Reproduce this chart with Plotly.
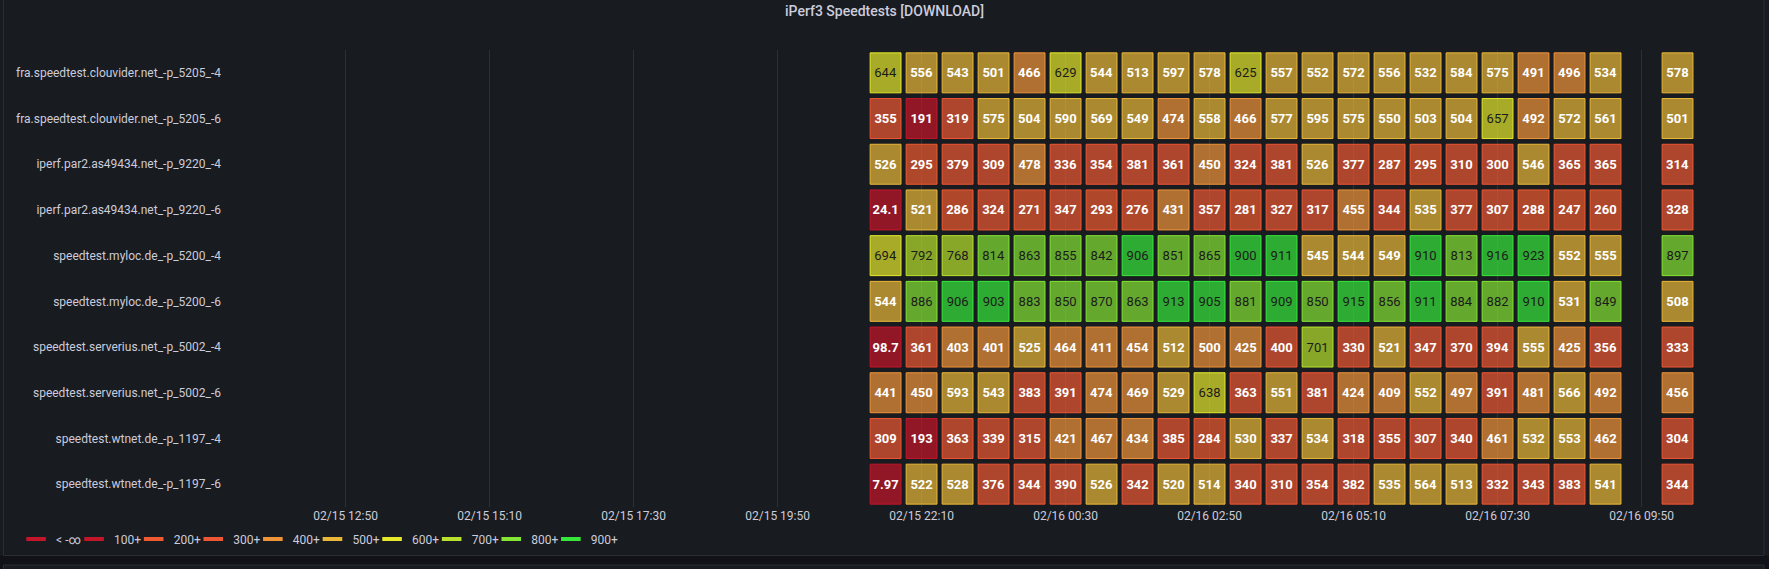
"""
iPerf3 download speedtests rendered as a Grafana-like status history grid
"""

import numpy as np
import pandas as pd
import plotly.graph_objects as go

# Rows (top to bottom)
hosts = [
    "fra.speedtest.clouvider.net_-p_5205_-4",
    "fra.speedtest.clouvider.net_-p_5205_-6",
    "iperf.par2.as49434.net_-p_9220_-4",
    "iperf.par2.as49434.net_-p_9220_-6",
    "speedtest.myloc.de_-p_5200_-4",
    "speedtest.myloc.de_-p_5200_-6",
    "speedtest.serverius.net_-p_5002_-4",
    "speedtest.serverius.net_-p_5002_-6",
    "speedtest.wtnet.de_-p_1197_-4",
    "speedtest.wtnet.de_-p_1197_-6",
]

# one sample every 35 minutes, one run missing before the last one
times = pd.date_range("2024-02-15 21:35", periods=23, freq="35min")

fra_4 = [644, 556, 543, 501, 466, 629, 544, 513, 597, 578, 625, 557, 552, 572, 556, 532, 584, 575, 491, 496, 534, None, 578]
fra_6 = [355, 191, 319, 575, 504, 590, 569, 549, 474, 558, 466, 577, 595, 575, 550, 503, 504, 657, 492, 572, 561, None, 501]
par2_4 = [526, 295, 379, 309, 478, 336, 354, 381, 361, 450, 324, 381, 526, 377, 287, 295, 310, 300, 546, 365, 365, None, 314]
par2_6 = [24.1, 521, 286, 324, 271, 347, 293, 276, 431, 357, 281, 327, 317, 455, 344, 535, 377, 307, 288, 247, 260, None, 328]
myloc_4 = [694, 792, 768, 814, 863, 855, 842, 906, 851, 865, 900, 911, 545, 544, 549, 910, 813, 916, 923, 552, 555, None, 897]
myloc_6 = [544, 886, 906, 903, 883, 850, 870, 863, 913, 905, 881, 909, 850, 915, 856, 911, 884, 882, 910, 531, 849, None, 508]
serverius_4 = [98.7, 361, 403, 401, 525, 464, 411, 454, 512, 499.6, 425, 399.6, 701, 330, 521, 347, 370, 394, 555, 425, 356, None, 333]
serverius_6 = [441, 450, 593, 543, 383, 391, 474, 469, 529, 638, 363, 551, 381, 424, 409, 552, 497, 391, 481, 566, 492, None, 456]
wtnet_4 = [309, 193, 363, 339, 315, 421, 467, 434, 385, 284, 530, 337, 534, 318, 355, 307, 340, 461, 532, 553, 462, None, 304]
wtnet_6 = [7.97, 522, 528, 376, 344, 390, 526, 342, 520, 514, 340, 310, 354, 382, 535, 564, 513, 332, 343, 383, 541, None, 344]

rows = [fra_4, fra_6, par2_4, par2_6, myloc_4, myloc_6,
        serverius_4, serverius_6, wtnet_4, wtnet_6]

# Threshold steps
threshold_steps = [-np.inf, 100, 200, 300, 400, 500, 600, 700, 800, 900]
threshold_names = ["< -∞", "100+", "200+", "300+", "400+", "500+", "600+", "700+", "800+", "900+"]
threshold_colors = ["#C4162A", "#C4162A", "#F05A30", "#EE5733", "#F0943A",
                    "#EAB839", "#E6E82C", "#B8E22E", "#85E534", "#37E83A"]

BG = "#181b1f"
TEXT = "#ccccdc"
FONT = "Roboto"


def step_color(v):
    idx = 0
    for i, s in enumerate(threshold_steps):
        if v >= s:
            idx = i
    return threshold_colors[idx]


def with_alpha(hex_color, alpha):
    h = hex_color.lstrip('#')
    r, g, b = int(h[0:2], 16), int(h[2:4], 16), int(h[4:6], 16)
    return f"rgba({r},{g},{b},{alpha})"


fig = go.Figure()

cell_width_ms = 30 * 60 * 1000
cell_height = 0.875

for r, row in enumerate(rows):
    xs = [t for t, v in zip(times, row) if v is not None]
    vals = [v for v in row if v is not None]
    borders = [step_color(v) for v in vals]
    fills = [with_alpha(c, 0.7) for c in borders]
    labels = [f"{v:.3g}" if v >= 600 else f"<b>{v:.3g}</b>" for v in vals]
    text_colors = ["#1b1b1b" if v >= 600 else "#ffffff" for v in vals]
    fig.add_trace(go.Bar(
        x=xs,
        y=[cell_height] * len(vals),
        base=[r - cell_height / 2] * len(vals),
        width=cell_width_ms,
        marker=dict(color=fills, line=dict(color=borders, width=1)),
        text=labels,
        textposition='inside',
        insidetextanchor='middle',
        textangle=0,
        constraintext='none',
        textfont=dict(family=FONT, size=13, color=text_colors),
        hoverinfo='skip',
        showlegend=False,
    ))

# Legend entries for the thresholds
for i, (name, color) in enumerate(zip(threshold_names, threshold_colors)):
    if i == 0:
        lw = 13
    elif i == len(threshold_names) - 1:
        lw = 40
    else:
        lw = None
    fig.add_trace(go.Scatter(
        x=[None], y=[None],
        mode='markers',
        name=name,
        legendwidth=lw,
        marker=dict(symbol='line-ew', size=14, line=dict(width=4, color=color)),
    ))

# page strip below the panel and panel borders
fig.add_shape(type='rect', xref='paper', yref='paper',
              x0=-0.2, x1=1.2, y0=-0.2, y1=-0.1061,
              fillcolor="#111217", line=dict(width=0), layer='below')
fig.add_shape(type='rect', xref='paper', yref='paper',
              x0=-0.1455, x1=1.0059, y0=-0.1061, y1=1.2,
              fillcolor='rgba(0,0,0,0)', line=dict(color="#2b2e33", width=1))
fig.add_shape(type='rect', xref='paper', yref='paper',
              x0=-0.1455, x1=1.0059, y0=-0.3, y1=-0.1269,
              fillcolor=BG, line=dict(color="#2b2e33", width=1))

fig.update_layout(
    width=1769,
    height=569,
    margin=dict(l=226, r=14, t=50, b=62),
    paper_bgcolor=BG,
    plot_bgcolor=BG,
    barmode='overlay',
    font=dict(family=FONT, size=12, color=TEXT),
    title=dict(
        text="iPerf3 Speedtests [DOWNLOAD]",
        x=0.5, xanchor='center',
        y=1 - 11 / 569, yanchor='middle',
        font=dict(family=FONT, size=14, color=TEXT, weight=500),
    ),
    xaxis=dict(
        type='date',
        range=["2024-02-15 10:53:43", "2024-02-16 11:40:18"],
        tick0="2024-02-15 12:50",
        dtick=140 * 60 * 1000,
        tickformat="%m/%d %H:%M",
        showgrid=True,
        gridcolor="#2c2f34",
        gridwidth=1,
        zeroline=False,
        showline=False,
        ticks='',
        tickfont=dict(family=FONT, size=12, color=TEXT),
    ),
    yaxis=dict(
        range=[9.5, -0.5],
        tickmode='array',
        tickvals=list(range(len(hosts))),
        ticktext=hosts,
        showgrid=False,
        zeroline=False,
        showline=False,
        ticks='',
        automargin=False,
        ticklabelstandoff=4,
        tickfont=dict(family=FONT, size=12, color=TEXT),
    ),
    legend=dict(
        orientation='h',
        x=-0.1373, xanchor='left',
        y=-0.070, yanchor='middle',
        entrywidth=14.6,
        itemwidth=30,
        font=dict(family=FONT, size=12, color=TEXT),
        bgcolor='rgba(0,0,0,0)',
        itemclick=False,
    ),
)

# drop the default page margin so the figure fills the window
fig.write_html(
    "out.html",
    config={'displayModeBar': False},
    post_script="document.body.style.margin='0';document.body.style.background='#111217';",
)
